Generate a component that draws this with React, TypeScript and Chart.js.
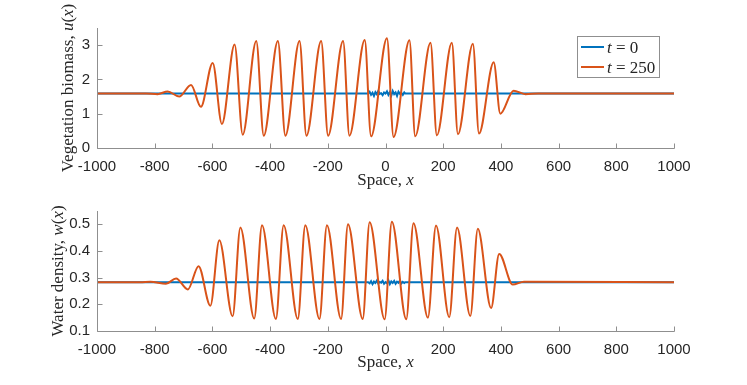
import React, { useEffect, useRef } from 'react';
import { Chart, registerables } from 'chart.js';
Chart.register(...registerables);

// ---------- data ----------
const xTickValues = [-1000, -800, -600, -400, -200, 0, 200, 400, 600, 800, 1000];
const uTickValues = [0, 1, 2, 3];
const wTickValues = [0.1, 0.2, 0.3, 0.4, 0.5];

// t = 0 : vegetation biomass (flat with small perturbation near the centre)
const uInitX = [-1000, -60, -55, -50, -45, -40, -35, -30, -25, -20, -15, -10, -5, 0, 5, 10, 15, 20, 25, 30, 35, 40, 45, 50, 55, 60, 65, 68, 1000];
const uInitY = [1.59, 1.59, 1.64, 1.55, 1.61, 1.52, 1.63, 1.57, 1.66, 1.58, 1.6, 1.54, 1.62, 1.59, 1.65, 1.55, 1.63, 1.53, 1.66, 1.57, 1.62, 1.52, 1.64, 1.58, 1.61, 1.55, 1.62, 1.59, 1.59];

// t = 250 : vegetation biomass
const uFinalX = [-1000, -830, -790, -755, -715, -674, -640, -599, -567, -523, -495, -448, -422, -373, -347, -298, -274, -223, -199, -147, -125, -72, -50, 5, 28, 83, 103, 156, 178, 230, 251, 303, 324, 375, 398, 444, 485, 530, 1000];
const uFinalY = [1.59, 1.59, 1.57, 1.65, 1.5, 1.84, 1.2, 2.48, 0.7, 3.02, 0.39, 3.12, 0.36, 3.12, 0.36, 3.12, 0.36, 3.12, 0.36, 3.12, 0.36, 3.15, 0.34, 3.2, 0.32, 3.14, 0.34, 3.07, 0.37, 3.07, 0.4, 3.04, 0.42, 2.5, 1.0, 1.67, 1.57, 1.59, 1.59];

// t = 0 : water density
const wInitX = [-1000, -60, -55, -50, -45, -40, -35, -30, -25, -20, -15, -10, -5, 0, 5, 10, 15, 20, 25, 30, 35, 40, 45, 50, 55, 60, 65, 68, 1000];
const wInitY = [0.283, 0.283, 0.279, 0.287, 0.276, 0.285, 0.28, 0.289, 0.278, 0.284, 0.281, 0.288, 0.277, 0.283, 0.279, 0.29, 0.276, 0.286, 0.28, 0.288, 0.277, 0.285, 0.281, 0.289, 0.278, 0.284, 0.28, 0.283, 0.283];

// t = 250 : water density
const wFinalX = [-1000, -850, -815, -761, -726, -685, -648, -607, -576, -530, -503, -455, -428, -380, -353, -304, -278, -229, -203, -154, -130, -79, -55, -3, 22, 72, 97, 147, 175, 221, 248, 294, 320, 366, 394, 441, 480, 1000];
const wFinalY = [0.283, 0.283, 0.285, 0.277, 0.297, 0.256, 0.343, 0.195, 0.44, 0.155, 0.488, 0.147, 0.497, 0.145, 0.497, 0.145, 0.497, 0.145, 0.497, 0.145, 0.5, 0.145, 0.508, 0.144, 0.51, 0.144, 0.504, 0.15, 0.496, 0.152, 0.488, 0.156, 0.483, 0.186, 0.389, 0.274, 0.285, 0.283];

const legendLabels = ['0', '250'];

// ---------- styles ----------
const BLUE = '#0072BD';
const ORANGE = '#D95319';
const TEXT = '#262626';
const AXIS = '#8f8f8f';
const SERIF = '"Liberation Serif", "Times New Roman", serif';
const SANS = '"Liberation Sans", Arial, Helvetica, sans-serif';

type Run = { text: string; italic?: boolean };

function drawRuns(ctx: CanvasRenderingContext2D, runs: Run[], x: number, y: number, size: number, rotate: boolean, align: 'center' | 'left') {
  ctx.save();
  ctx.translate(x, y);
  if (rotate) ctx.rotate(-Math.PI / 2);
  const fonts = runs.map(r => `${r.italic ? 'italic ' : ''}${size}px ${SERIF}`);
  const widths = runs.map((r, i) => { ctx.font = fonts[i]; return ctx.measureText(r.text).width; });
  const total = widths.reduce((a, b) => a + b, 0);
  let cx = align === 'center' ? -total / 2 : 0;
  ctx.textAlign = 'left';
  ctx.textBaseline = 'alphabetic';
  ctx.fillStyle = TEXT;
  runs.forEach((r, i) => { ctx.font = fonts[i]; ctx.fillText(r.text, cx, 0); cx += widths[i]; });
  ctx.restore();
}

function zip(xs: number[], ys: number[]) {
  return xs.map((x, i) => ({ x, y: ys[i] }));
}

type Panel = {
  x0: number[]; y0: number[]; x1: number[]; y1: number[];
  ymin: number; ymax: number; yTicks: number[]; fmt: (v: number) => string;
  padTop: number; xAxisH: number;
  yTitle: Run[]; yTitleX: number; xTitle: Run[]; xTitleY: number; legend: boolean;
};

function makeDecor(p: Panel) {
  return {
    id: 'decor',
    afterDraw(chart: any) {
      const ctx: CanvasRenderingContext2D = chart.ctx;
      const a = chart.chartArea;
      const xs = chart.scales.x;
      const ys = chart.scales.y;
      ctx.save();
      ctx.strokeStyle = AXIS;
      ctx.lineWidth = 1;
      const L = Math.round(a.left) + 0.5;
      const B = Math.round(a.bottom) + 0.5;
      ctx.beginPath();
      ctx.moveTo(L, Math.round(a.top));
      ctx.lineTo(L, B);
      ctx.lineTo(Math.round(a.right) + 0.5, B);
      // inward ticks
      xTickValues.forEach(v => {
        const px = Math.round(xs.getPixelForValue(v)) + 0.5;
        ctx.moveTo(px, B);
        ctx.lineTo(px, B - 5);
      });
      p.yTicks.forEach(v => {
        const py = Math.round(ys.getPixelForValue(v)) + 0.5;
        ctx.moveTo(L, py);
        ctx.lineTo(L + 5, py);
      });
      ctx.stroke();
      ctx.restore();

      // titles
      drawRuns(ctx, p.yTitle, p.yTitleX, (a.top + a.bottom) / 2, 17, true, 'center');
      drawRuns(ctx, p.xTitle, (a.left + a.right) / 2, p.xTitleY, 17, false, 'center');

      if (p.legend) {
        ctx.save();
        ctx.fillStyle = '#ffffff';
        ctx.strokeStyle = AXIS;
        ctx.lineWidth = 1;
        ctx.fillRect(577.5, 36.5, 82, 41);
        ctx.strokeRect(577.5, 36.5, 82, 41);
        const colors = [BLUE, ORANGE];
        legendLabels.forEach((lab, i) => {
          const yy = 47 + i * 20;
          ctx.strokeStyle = colors[i];
          ctx.lineWidth = 2;
          ctx.beginPath();
          ctx.moveTo(581, yy);
          ctx.lineTo(604, yy);
          ctx.stroke();
          drawRuns(ctx, [{ text: 't', italic: true }, { text: ' = ' + lab }], 607, yy + 5.5, 17, false, 'left');
        });
        ctx.restore();
      }
    },
  };
}

function buildConfig(p: Panel): any {
  return {
    type: 'line',
    data: {
      datasets: [
        { label: 't = 0', data: zip(p.x0, p.y0), borderColor: BLUE, backgroundColor: BLUE, borderWidth: 2, pointRadius: 0, tension: 0, order: 2 },
        { label: 't = 250', data: zip(p.x1, p.y1), borderColor: ORANGE, backgroundColor: ORANGE, borderWidth: 2, pointRadius: 0, cubicInterpolationMode: 'monotone', order: 1 },
      ],
    },
    options: {
      responsive: false,
      animation: false,
      devicePixelRatio: 1,
      events: [],
      layout: { padding: { left: 0, right: 73, top: p.padTop, bottom: 0 } },
      plugins: { legend: { display: false }, tooltip: { enabled: false } },
      scales: {
        x: {
          type: 'linear', min: -1000, max: 1000,
          afterBuildTicks: (s: any) => { s.ticks = xTickValues.map(v => ({ value: v })); },
          afterFit: (s: any) => { s.height = p.xAxisH; },
          grid: { display: false, drawTicks: false },
          border: { display: false },
          ticks: { font: { family: SANS, size: 15 }, color: TEXT, padding: 10, maxRotation: 0, minRotation: 0, autoSkip: false, callback: (v: number) => String(v) },
        },
        y: {
          type: 'linear', min: p.ymin, max: p.ymax,
          afterBuildTicks: (s: any) => { s.ticks = p.yTicks.map(v => ({ value: v })); },
          afterFit: (s: any) => { s.width = 97; },
          grid: { display: false, drawTicks: false },
          border: { display: false },
          ticks: { font: { family: SANS, size: 15 }, color: TEXT, padding: 7, autoSkip: false, callback: (v: number) => p.fmt(v) },
        },
      },
    },
    plugins: [makeDecor(p)],
  };
}

export default function App() {
  const topRef = useRef<HTMLCanvasElement>(null);
  const botRef = useRef<HTMLCanvasElement>(null);

  useEffect(() => {
    const top: Panel = {
      x0: uInitX, y0: uInitY, x1: uFinalX, y1: uFinalY,
      ymin: 0, ymax: 3.5, yTicks: uTickValues, fmt: v => String(v),
      padTop: 28, xAxisH: 42,
      yTitle: [{ text: 'Vegetation biomass, ' }, { text: 'u', italic: true }, { text: '(' }, { text: 'x', italic: true }, { text: ')' }],
      yTitleX: 73,
      xTitle: [{ text: 'Space, ' }, { text: 'x', italic: true }],
      xTitleY: 184.5, legend: true,
    };
    const bot: Panel = {
      x0: wInitX, y0: wInitY, x1: wFinalX, y1: wFinalY,
      ymin: 0.1, ymax: 0.55, yTicks: wTickValues, fmt: v => v.toFixed(1),
      padTop: 21, xAxisH: 54,
      yTitle: [{ text: 'Water density, ' }, { text: 'w', italic: true }, { text: '(' }, { text: 'x', italic: true }, { text: ')' }],
      yTitleX: 63,
      xTitle: [{ text: 'Space, ' }, { text: 'x', italic: true }],
      xTitleY: 177, legend: false,
    };
    const c1 = new Chart(topRef.current as HTMLCanvasElement, buildConfig(top));
    const c2 = new Chart(botRef.current as HTMLCanvasElement, buildConfig(bot));
    return () => { c1.destroy(); c2.destroy(); };
  }, []);

  return (
    <div style={{ position: 'fixed', left: 0, top: 0, width: 747, height: 385, background: '#ffffff' }}>
      <canvas ref={topRef} width={747} height={190} style={{ position: 'absolute', left: 0, top: 0 }} />
      <canvas ref={botRef} width={747} height={195} style={{ position: 'absolute', left: 0, top: 190 }} />
    </div>
  );
}
